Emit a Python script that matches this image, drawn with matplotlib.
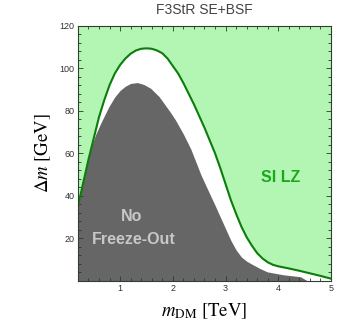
import matplotlib
matplotlib.use("Agg")
import matplotlib.pyplot as plt
from matplotlib.ticker import MultipleLocator

plt.rcParams['font.family'] = ['Liberation Sans', 'DejaVu Sans']
plt.rcParams['mathtext.fontset'] = 'stix'

# SI LZ boundary (m_DM in TeV, Delta m in GeV)
lz_m = [0.2, 0.3, 0.4, 0.5, 0.6, 0.7, 0.8, 0.9, 1.0, 1.1, 1.2, 1.3, 1.4, 1.5,
        1.6, 1.7, 1.8, 1.9, 2.0, 2.1, 2.2, 2.3, 2.4, 2.5, 2.6, 2.7, 2.8, 2.9,
        3.0, 3.1, 3.2, 3.3, 3.4, 3.5, 3.6, 3.7, 3.8, 3.9, 4.0, 4.2, 4.4, 4.6,
        4.8, 5.0]
lz_dm = [35, 46, 57, 67, 77, 85, 92, 97.5, 101.5, 104.5, 106.8, 108.3, 109.1, 109.3,
         109.1, 108.3, 107, 104.5, 101, 97.5, 93, 88, 83, 77.5, 72, 66, 60, 53,
         45.5, 38, 31.5, 25.5, 20.5, 16.5, 13, 10.5, 8.7, 7.5, 6.8, 5.8, 4.7, 3.5,
         2.3, 1.0]

# No freeze-out region upper edge
fo_m = [0.2, 0.3, 0.43, 0.54, 0.65, 0.79, 0.9, 1.0, 1.1, 1.2, 1.33, 1.45, 1.58,
        1.74, 1.96, 2.05, 2.2, 2.34, 2.53, 2.65, 2.8, 2.9, 3.0, 3.1, 3.2, 3.3,
        3.4, 3.5, 3.65, 3.79, 4.1, 4.42, 4.55]
fo_dm = [35, 47, 61.5, 69, 75, 82, 86.5, 89.5, 91.5, 92.8, 93.2, 92.3, 90.5,
         86.6, 79, 75.6, 69, 62, 50, 43.5, 35.5, 30, 24.5, 19, 14.5, 11.2,
         9.2, 7.8, 5.8, 4.2, 2.8, 1.9, 0]

fig = plt.figure(figsize=(3.51, 3.28), dpi=100)
ax = fig.add_axes([0.222, 0.144, 0.721, 0.778])

ax.fill_between(lz_m, lz_dm, 120, color='#b3f5b3', lw=0)
ax.fill_between(fo_m, 0, fo_dm, color='#666666', lw=0)
ax.plot(lz_m, lz_dm, color='#0b7d0b', lw=1.5)

ax.text(1.22, 30, 'No', color='#c8c8c8', fontsize=11.5, fontweight='bold',
        ha='center', va='center')
ax.text(1.25, 19.5, 'Freeze-Out', color='#c8c8c8', fontsize=11.5, fontweight='bold',
        ha='center', va='center')
ax.text(4.04, 48.7, 'SI LZ', color='#1ca81c', fontsize=11.5, fontweight='bold',
        ha='center', va='center')

ax.set_xlim(0.2, 5)
ax.set_ylim(0, 120)
ax.xaxis.set_major_locator(MultipleLocator(1))
ax.xaxis.set_minor_locator(MultipleLocator(0.2))
ax.yaxis.set_major_locator(MultipleLocator(20))
ax.yaxis.set_minor_locator(MultipleLocator(4))
ax.set_yticks([20, 40, 60, 80, 100, 120])
ax.tick_params(which='both', direction='in', top=True, right=True,
               labelsize=6.5, labelcolor='#333333', color='#333333', width=0.6)
ax.tick_params(which='major', length=3.5, pad=2.5)
ax.tick_params(which='minor', length=2)
for s in ax.spines.values():
    s.set_color('#2f3f2f')
    s.set_linewidth(0.8)

ax.set_title('F3StR SE+BSF', fontsize=10, color='#444444', pad=8)
ax.set_xlabel(r'$m_{\rm DM}\ [\rm TeV]$', fontsize=13.5, labelpad=6)
ax.set_ylabel(r'$\Delta m\ [\rm GeV]$', fontsize=13.5, labelpad=5)

fig.savefig('out.png', dpi=100)
